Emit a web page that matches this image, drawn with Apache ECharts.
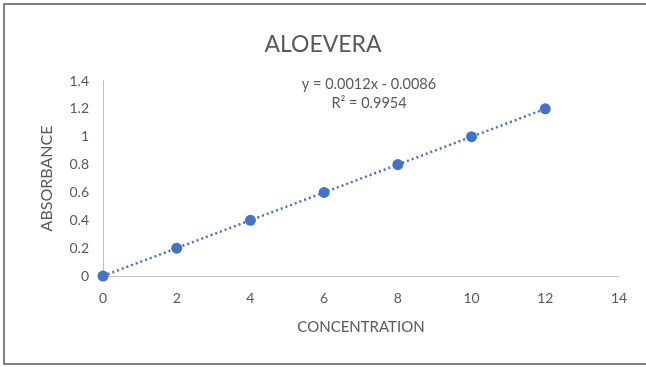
<!DOCTYPE html>
<html><head><meta charset="utf-8">
<script src="https://cdn.jsdelivr.net/npm/echarts@6/dist/echarts.min.js"></script>
<style>html,body{margin:0;padding:0;background:#fff}#c{width:646px;height:367px}</style>
</head><body><div id="c"></div>
<script>
const concentration = [0, 2, 4, 6, 8, 10, 12];
const absorbance = [0, 0.2, 0.4, 0.6, 0.8, 1.0, 1.2];
const titleText = 'ALOEVERA';
const xName = 'CONCENTRATION';
const yName = 'ABSORBANCE';
const eqLine1 = 'y = 0.0012x - 0.0086';
const eqLine2 = 'R² = 0.9954';

const pts = concentration.map((x, i) => [x, absorbance[i]]);
const font = 'Lato, "Open Sans", sans-serif';
const chart = echarts.init(document.getElementById('c'));
chart.setOption({
  animation: false,
  textStyle: { fontFamily: font },
  title: { text: titleText, left: 'center', top: 28, textStyle: { fontFamily: font, fontSize: 23, fontWeight: 'normal', color: '#595959' } },
  grid: { left: 103, right: 27, top: 81, bottom: 91 },
  xAxis: {
    type: 'value', min: 0, max: 14, interval: 2,
    name: xName, nameLocation: 'middle', nameGap: 44,
    nameTextStyle: { fontFamily: font, fontSize: 15, color: '#595959' },
    axisLine: { show: true, lineStyle: { color: '#bfbfbf', width: 1 } },
    axisTick: { show: false },
    axisLabel: { fontFamily: font, fontSize: 14, color: '#595959', margin: 15 },
    splitLine: { show: false }
  },
  yAxis: {
    type: 'value', min: 0, max: 1.4, interval: 0.2,
    name: yName, nameLocation: 'middle', nameGap: 48, nameRotate: 90,
    nameTextStyle: { fontFamily: font, fontSize: 16, color: '#595959' },
    axisLine: { show: true, lineStyle: { color: '#bfbfbf', width: 1 } },
    axisTick: { show: false },
    axisLabel: { fontFamily: font, fontSize: 14, color: '#595959', margin: 14, formatter: v => String(Math.round(v * 10) / 10) },
    splitLine: { show: false }
  },
  series: [
    { type: 'line', data: pts, symbol: 'none', lineStyle: { color: '#4472c4', width: 2.5, type: [2, 3] }, z: 2 },
    { type: 'scatter', data: pts, symbol: 'circle', symbolSize: 11, itemStyle: { color: '#4472c4', opacity: 1 }, z: 3 }
  ],
  graphic: [
    { type: 'rect', shape: { x: 4, y: 4, width: 660, height: 360 }, style: { fill: 'none', stroke: '#595959', lineWidth: 1.5 }, silent: true },
    { type: 'text', x: 369, y: 77, style: { text: eqLine1, textAlign: 'center', fontFamily: font, fontSize: 14.5, fill: '#595959' } },
    { type: 'text', x: 369, y: 96, style: { text: eqLine2, textAlign: 'center', fontFamily: font, fontSize: 14.5, fill: '#595959' } }
  ]
});
</script></body></html>
